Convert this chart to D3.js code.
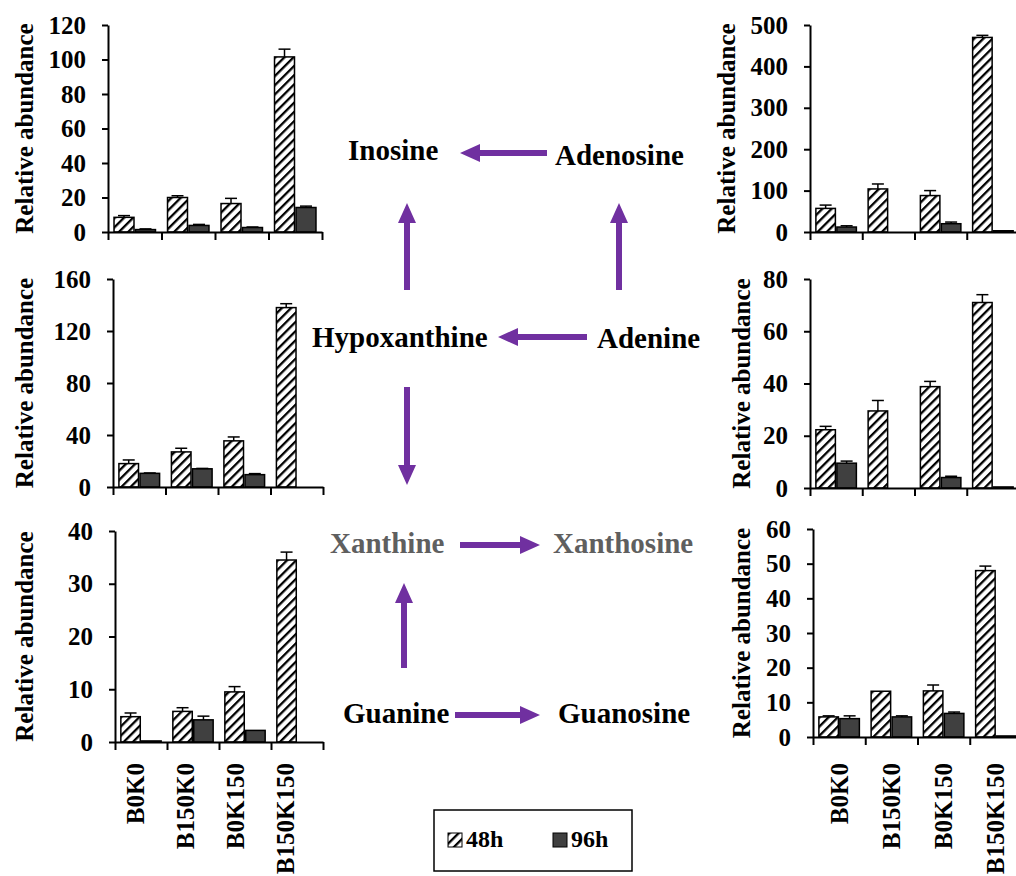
<!DOCTYPE html>
<html>
<head>
<meta charset="utf-8">
<script src="https://cdn.jsdelivr.net/npm/d3@7"></script>
<style>
  body { margin: 0; background: #fff; }
  svg, svg text { font-family: "Liberation Serif", "Times New Roman", Times, serif; font-weight: bold; }
</style>
</head>
<body>
<div id="chart"></div>
<script>
// categories and series
const categories = ["B0K0", "B150K0", "B0K150", "B150K150"];
const seriesNames = ["48h", "96h"];

// top left panel
const tl48 = [8.5, 20, 16.5, 101.5];
const tl48Err = [1, 1, 3, 4.5];
const tl96 = [1.4, 3.8, 2.6, 14.2];
const tl96Err = [0.4, 0.6, 0.3, 0.8];
const tlTicks = [0, 20, 40, 60, 80, 100, 120];

// middle left panel
const ml48 = [18, 27, 35.5, 138];
const ml48Err = [2.8, 2.8, 3, 3];
const ml96 = [10.5, 14, 9.5, 0];
const ml96Err = [0.3, 0.3, 0.8, 0];
const mlTicks = [0, 40, 80, 120, 160];

// bottom left panel
const bl48 = [4.8, 5.8, 9.5, 34.5];
const bl48Err = [0.7, 0.7, 1, 1.5];
const bl96 = [0.2, 4.2, 2.2, 0];
const bl96Err = [0, 0.7, 0, 0];
const blTicks = [0, 10, 20, 30, 40];

// top right panel
const tr48 = [57, 104, 88, 470];
const tr48Err = [8, 12, 12, 5];
const tr96 = [12, 0, 20, 3];
const tr96Err = [3, 0, 4, 0];
const trTicks = [0, 100, 200, 300, 400, 500];

// middle right panel
const mr48 = [22.3, 29.5, 38.8, 71];
const mr48Err = [1.3, 4, 2, 3];
const mr96 = [9.5, 0, 4, 0.4];
const mr96Err = [0.8, 0, 0.5, 0];
const mrTicks = [0, 20, 40, 60, 80];

// bottom right panel
const br48 = [5.8, 13.2, 13.3, 48];
const br48Err = [0.3, 0, 1.7, 1.3];
const br96 = [5.3, 5.8, 6.8, 0.3];
const br96Err = [0.8, 0.3, 0.4, 0];
const brTicks = [0, 10, 20, 30, 40, 50, 60];

// pathway labels
const nodeNames = ["Inosine", "Adenosine", "Hypoxanthine", "Adenine", "Xanthine", "Xanthosine", "Guanine", "Guanosine"];

const FONT = "'Liberation Serif', 'Times New Roman', Times, serif";

const svg = d3.select("#chart").append("svg")
    .attr("width", 1016)
    .attr("height", 876)
    .style("font-family", FONT);

const defs = svg.append("defs");
const hatch = defs.append("pattern")
    .attr("id", "hatch")
    .attr("patternUnits", "userSpaceOnUse")
    .attr("width", 6.5)
    .attr("height", 6.5)
    .attr("patternTransform", "rotate(45)");
hatch.append("rect").attr("width", 6.5).attr("height", 6.5).attr("fill", "#fff");
hatch.append("rect").attr("width", 2.3).attr("height", 6.5).attr("fill", "#000");

const panels = [
    { v48: tl48, e48: tl48Err, v96: tl96, e96: tl96Err, ticks: tlTicks, x0: 108, x1: 322, top: 25, base: 232, labelX: 33 },
    { v48: ml48, e48: ml48Err, v96: ml96, e96: ml96Err, ticks: mlTicks, x0: 113, x1: 323, top: 279, base: 487, labelX: 33 },
    { v48: bl48, e48: bl48Err, v96: bl96, e96: bl96Err, ticks: blTicks, x0: 115, x1: 323, top: 531, base: 742, labelX: 33 },
    { v48: tr48, e48: tr48Err, v96: tr96, e96: tr96Err, ticks: trTicks, x0: 810, x1: 1019, top: 25, base: 232, labelX: 735 },
    { v48: mr48, e48: mr48Err, v96: mr96, e96: mr96Err, ticks: mrTicks, x0: 810, x1: 1019, top: 279, base: 488, labelX: 750 },
    { v48: br48, e48: br48Err, v96: br96, e96: br96Err, ticks: brTicks, x0: 813, x1: 1022, top: 529, base: 737, labelX: 750 }
];

panels.forEach(function (p) {
    const g = svg.append("g");

    const x = d3.scaleBand().domain(categories).range([p.x0, p.x1]).padding(0);
    const xs = d3.scaleBand().domain(seriesNames).range([0, x.bandwidth()])
        .paddingInner(0.07).paddingOuter(0.28);
    const y = d3.scaleLinear().domain([0, d3.max(p.ticks)]).range([p.base, p.top]);
    p.x = x;

    const rows = [];
    categories.forEach(function (c, i) {
        rows.push({ cat: c, s: "48h", v: p.v48[i], e: p.e48[i] });
        rows.push({ cat: c, s: "96h", v: p.v96[i], e: p.e96[i] });
    });

    // bars
    g.selectAll("rect.bar")
        .data(rows.filter(d => d.v > 0))
        .join("rect")
        .attr("class", "bar")
        .attr("x", d => x(d.cat) + xs(d.s))
        .attr("y", d => y(d.v))
        .attr("width", xs.bandwidth())
        .attr("height", d => y(0) - y(d.v))
        .attr("fill", d => d.s === "48h" ? "url(#hatch)" : "#404040")
        .attr("stroke", "#000")
        .attr("stroke-width", 1.5);

    // error bars (upper only)
    const err = g.selectAll("g.err")
        .data(rows.filter(d => d.e > 0))
        .join("g")
        .attr("class", "err")
        .attr("stroke", "#000")
        .attr("stroke-width", 1.5);
    err.append("line")
        .attr("x1", d => x(d.cat) + xs(d.s) + xs.bandwidth() / 2)
        .attr("x2", d => x(d.cat) + xs(d.s) + xs.bandwidth() / 2)
        .attr("y1", d => y(d.v))
        .attr("y2", d => y(d.v + d.e));
    err.append("line")
        .attr("x1", d => x(d.cat) + xs(d.s) + xs.bandwidth() / 2 - 6)
        .attr("x2", d => x(d.cat) + xs(d.s) + xs.bandwidth() / 2 + 6)
        .attr("y1", d => y(d.v + d.e))
        .attr("y2", d => y(d.v + d.e));

    // y axis
    const ya = g.append("g")
        .attr("transform", "translate(" + p.x0 + ",0)")
        .call(d3.axisLeft(y).tickValues(p.ticks).tickSize(6).tickSizeOuter(0).tickPadding(16))
        .attr("font-family", null)
        .attr("font-size", null);
    ya.select(".domain").attr("stroke-width", 2);
    ya.selectAll(".tick line").attr("stroke-width", 2);
    ya.selectAll(".tick text")
        .style("font-family", FONT)
        .style("font-weight", "bold")
        .style("font-size", "25px")
        .attr("fill", "#000");

    // x axis with ticks between categories
    const xb = d3.scaleLinear().domain([0, categories.length]).range([p.x0, p.x1]);
    const xa = g.append("g")
        .attr("transform", "translate(0," + p.base + ")")
        .call(d3.axisBottom(xb).tickValues(d3.range(categories.length + 1)).tickFormat("").tickSize(8).tickSizeOuter(0));
    xa.select(".domain").attr("stroke-width", 2);
    xa.selectAll(".tick line").attr("stroke-width", 2);

    // y label
    g.append("text")
        .attr("transform", "translate(" + p.labelX + "," + ((p.top + p.base) / 2) + ") rotate(-90)")
        .attr("text-anchor", "middle")
        .style("font-size", "25px")
        .text("Relative abundance");
});

// category labels under the bottom panels
const leftLabelX = d3.scaleBand().domain(categories).range([111, 310]);
const rightLabelX = panels[5].x;
[leftLabelX, rightLabelX].forEach(function (sc) {
    svg.append("g").selectAll("text")
        .data(categories)
        .join("text")
        .attr("transform", d => "translate(" + (sc(d) + sc.bandwidth() / 2 + 8.5) + ",763) rotate(-90)")
        .attr("text-anchor", "end")
        .style("font-size", "25px")
        .text(d => d);
});

// pathway diagram
const nodePos = [
    { x: 348, y: 160 }, { x: 555, y: 165 },
    { x: 312, y: 347 }, { x: 597, y: 348 },
    { x: 330, y: 553 }, { x: 553, y: 553 },
    { x: 343, y: 723 }, { x: 558, y: 723 }
];
svg.append("g").selectAll("text")
    .data(nodeNames)
    .join("text")
    .attr("x", (d, i) => nodePos[i].x)
    .attr("y", (d, i) => nodePos[i].y)
    .style("font-size", "29px")
    .attr("fill", d => d.startsWith("Xanth") ? "#5f5f5f" : "#000")
    .text(d => d);

const arrows = [
    [547, 153, 460, 153],
    [407, 290, 407, 203],
    [619, 290, 619, 203],
    [587, 337, 498, 337],
    [407, 387, 407, 485],
    [460, 545, 540, 545],
    [404, 668, 404, 583],
    [455, 715, 540, 715]
];
function arrowPath(a) {
    const [x1, y1, x2, y2] = a;
    const len = Math.hypot(x2 - x1, y2 - y1);
    const hl = 20, hw = 9, sw = 3;
    const pts = [[0, -sw], [len - hl, -sw], [len - hl, -hw], [len, 0], [len - hl, hw], [len - hl, sw], [0, sw]];
    const ang = Math.atan2(y2 - y1, x2 - x1);
    const c = Math.cos(ang), s = Math.sin(ang);
    return "M" + pts.map(p => [x1 + p[0] * c - p[1] * s, y1 + p[0] * s + p[1] * c].join(",")).join("L") + "Z";
}
svg.append("g").selectAll("path")
    .data(arrows)
    .join("path")
    .attr("d", arrowPath)
    .attr("fill", "#7030A0");

// legend
const legend = svg.append("g");
legend.append("rect")
    .attr("x", 434).attr("y", 810).attr("width", 198).attr("height", 61)
    .attr("fill", "#fff").attr("stroke", "#000").attr("stroke-width", 1.5);
const legendItems = legend.selectAll("g")
    .data(seriesNames)
    .join("g")
    .attr("transform", (d, i) => "translate(" + (448 + i * 105) + ",833)");
legendItems.append("rect")
    .attr("width", 14).attr("height", 14)
    .attr("fill", d => d === "48h" ? "url(#hatch)" : "#404040")
    .attr("stroke", "#000").attr("stroke-width", 1);
legendItems.append("text")
    .attr("x", 18).attr("y", 14)
    .style("font-size", "24px")
    .text(d => d);
</script>
</body>
</html>
